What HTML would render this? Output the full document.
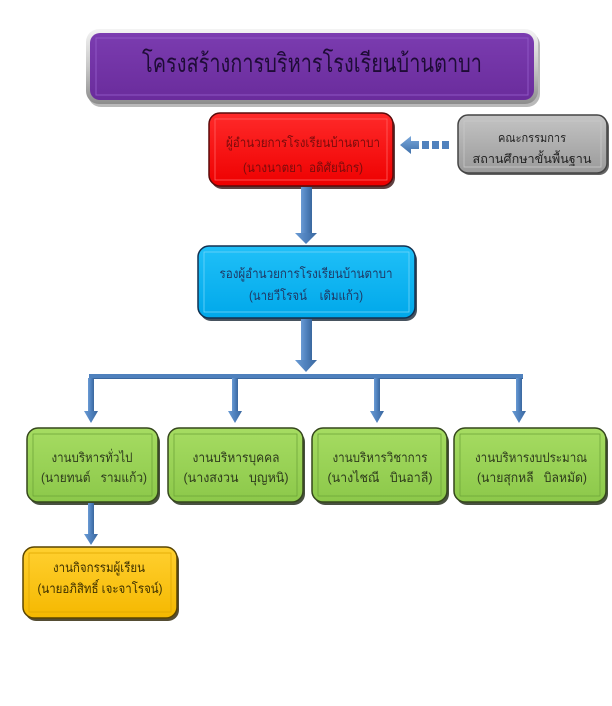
<!DOCTYPE html>
<html><head><meta charset="utf-8">
<style>
html,body{margin:0;padding:0;background:#fff;}
svg{display:block;}
text{font-family:"Liberation Sans","DejaVu Sans","Noto Sans CJK SC",sans-serif;white-space:pre;}
</style></head>
<body>
<svg width="612" height="706" viewBox="0 0 612 706" xmlns="http://www.w3.org/2000/svg" xml:space="preserve">
<defs>
  <linearGradient id="gSil" x1="0" y1="0" x2="0" y2="1">
    <stop offset="0" stop-color="#f4f4f4"/><stop offset="0.5" stop-color="#c8c8c8"/><stop offset="1" stop-color="#8c8c8c"/>
  </linearGradient>
  <linearGradient id="gPur" x1="0" y1="0" x2="0" y2="1">
    <stop offset="0" stop-color="#7b3cb0"/><stop offset="1" stop-color="#6a2c9c"/>
  </linearGradient>
  <linearGradient id="gRed" x1="0" y1="0" x2="0" y2="1">
    <stop offset="0" stop-color="#ff2a2a"/><stop offset="1" stop-color="#ee0000"/>
  </linearGradient>
  <linearGradient id="gGray" x1="0" y1="0" x2="0" y2="1">
    <stop offset="0" stop-color="#c4c4c4"/><stop offset="1" stop-color="#9a9a9a"/>
  </linearGradient>
  <linearGradient id="gBlue" x1="0" y1="0" x2="0" y2="1">
    <stop offset="0" stop-color="#20c0f8"/><stop offset="1" stop-color="#00a8ea"/>
  </linearGradient>
  <linearGradient id="gGreen" x1="0" y1="0" x2="0" y2="1">
    <stop offset="0" stop-color="#a6dc62"/><stop offset="1" stop-color="#8cc84a"/>
  </linearGradient>
  <linearGradient id="gYel" x1="0" y1="0" x2="0" y2="1">
    <stop offset="0" stop-color="#ffd030"/><stop offset="1" stop-color="#f5b800"/>
  </linearGradient>
  <linearGradient id="gArr" x1="0" y1="0" x2="1" y2="0">
    <stop offset="0" stop-color="#6a9bd4"/><stop offset="0.5" stop-color="#4f81bd"/><stop offset="1" stop-color="#3a679e"/>
  </linearGradient>
  <linearGradient id="gArrH" x1="0" y1="0" x2="0" y2="1">
    <stop offset="0" stop-color="#7aa8dc"/><stop offset="1" stop-color="#3f70aa"/>
  </linearGradient>
</defs>

<!-- Title -->
<rect x="88" y="32" width="452" height="75" rx="13" fill="#8a8a8a" opacity="0.6"/>
<rect x="86" y="29" width="452" height="75" rx="13" fill="url(#gSil)"/>
<rect x="90" y="33" width="444" height="67" rx="10" fill="url(#gPur)"/>
<rect x="96" y="38" width="432" height="57" fill="none" stroke="#8e55c4" stroke-width="1"/>
<text x="312" y="72" font-size="26" text-anchor="middle" fill="#1e0c36" textLength="340" lengthAdjust="spacingAndGlyphs">โครงสร้างการบริหารโรงเรียนบ้านตาบา</text>

<!-- Red director -->
<rect x="211" y="116" width="184" height="73" rx="11" fill="#2a0000" opacity="0.75"/>
<rect x="209" y="113" width="184" height="73" rx="11" fill="url(#gRed)" stroke="#5a0a0a" stroke-width="1.5"/>
<rect x="215" y="119" width="172" height="61" fill="none" stroke="#ff6060" stroke-width="0.8"/>
<text x="303" y="147" font-size="13" text-anchor="middle" fill="#7a0c0c" textLength="154" lengthAdjust="spacingAndGlyphs">ผู้อำนวยการโรงเรียนบ้านตาบา</text>
<text x="303" y="172" font-size="13" text-anchor="middle" fill="#7a0c0c" textLength="120" lengthAdjust="spacingAndGlyphs">(นางนาตยา  อดิศัยนิกร)</text>

<!-- Gray committee -->
<rect x="460" y="117" width="149" height="58" rx="10" fill="#222" opacity="0.7"/>
<rect x="458" y="115" width="149" height="58" rx="10" fill="url(#gGray)" stroke="#444" stroke-width="1.5"/>
<rect x="464" y="121" width="137" height="46" fill="none" stroke="#c8c8c8" stroke-width="0.8"/>
<text x="532" y="142" font-size="12" text-anchor="middle" fill="#222" textLength="68" lengthAdjust="spacingAndGlyphs">คณะกรรมการ</text>
<text x="532" y="163" font-size="12" text-anchor="middle" fill="#222" textLength="119" lengthAdjust="spacingAndGlyphs">สถานศึกษาขั้นพื้นฐาน</text>

<!-- Dashed arrow left -->
<polygon points="400,145 411,136 411,141 419,141 419,149 411,149 411,154" fill="url(#gArrH)"/>
<rect x="422" y="141" width="7" height="8" fill="#4f81bd"/>
<rect x="432" y="141" width="7" height="8" fill="#4f81bd"/>
<rect x="442" y="141" width="7" height="8" fill="#4f81bd"/>

<!-- Arrow red -> blue -->
<rect x="301" y="187" width="11" height="47" fill="url(#gArr)"/>
<polygon points="295,233 317,233 306,244" fill="url(#gArr)"/>

<!-- Blue deputy -->
<rect x="200" y="249" width="217" height="72" rx="11" fill="#0a1a2a" opacity="0.75"/>
<rect x="198" y="246" width="217" height="72" rx="11" fill="url(#gBlue)" stroke="#123050" stroke-width="1.5"/>
<rect x="204" y="252" width="205" height="60" fill="none" stroke="#70d4f8" stroke-width="0.8"/>
<text x="306" y="278" font-size="13" text-anchor="middle" fill="#1f3864" textLength="173" lengthAdjust="spacingAndGlyphs">รองผู้อำนวยการโรงเรียนบ้านตาบา</text>
<text x="306" y="300" font-size="13" text-anchor="middle" fill="#1f3864" textLength="114" lengthAdjust="spacingAndGlyphs">(นายวีโรจน์    เดิมแก้ว)</text>

<!-- Arrow blue -> bar -->
<rect x="301" y="319" width="11" height="42" fill="url(#gArr)"/>
<polygon points="295,360 317,360 306,372" fill="url(#gArr)"/>

<!-- Horizontal bar -->
<rect x="89" y="374" width="434" height="5" fill="#4f81bd"/>
<rect x="89" y="378" width="434" height="1" fill="#3a679e"/>

<!-- Drops -->
<g fill="url(#gArr)">
  <rect x="88" y="378" width="6" height="34"/><polygon points="84,411 98,411 91,423"/>
  <rect x="232" y="378" width="6" height="34"/><polygon points="228,411 242,411 235,423"/>
  <rect x="374" y="378" width="6" height="34"/><polygon points="370,411 384,411 377,423"/>
  <rect x="516" y="378" width="6" height="34"/><polygon points="512,411 526,411 519,423"/>
</g>

<!-- Green boxes -->
<g>
  <rect x="29" y="431" width="131" height="74" rx="11" fill="#1a2410" opacity="0.8"/>
  <rect x="27" y="428" width="131" height="74" rx="11" fill="url(#gGreen)" stroke="#35471c" stroke-width="1.5"/>
  <rect x="33" y="434" width="119" height="62" fill="none" stroke="#6fa53a" stroke-width="0.8"/>
  <text x="92" y="462" font-size="13" text-anchor="middle" fill="#2e3b1c" textLength="81" lengthAdjust="spacingAndGlyphs">งานบริหารทั่วไป</text>
  <text x="94" y="482" font-size="13" text-anchor="middle" fill="#2e3b1c" textLength="106" lengthAdjust="spacingAndGlyphs">(นายทนต์   รามแก้ว)</text>

  <rect x="170" y="431" width="135" height="74" rx="11" fill="#1a2410" opacity="0.8"/>
  <rect x="168" y="428" width="135" height="74" rx="11" fill="url(#gGreen)" stroke="#35471c" stroke-width="1.5"/>
  <rect x="174" y="434" width="123" height="62" fill="none" stroke="#6fa53a" stroke-width="0.8"/>
  <text x="236" y="462" font-size="13" text-anchor="middle" fill="#2e3b1c" textLength="87" lengthAdjust="spacingAndGlyphs">งานบริหารบุคคล</text>
  <text x="236" y="482" font-size="13" text-anchor="middle" fill="#2e3b1c" textLength="105" lengthAdjust="spacingAndGlyphs">(นางสงวน   บุญหนิ)</text>

  <rect x="314" y="431" width="135" height="74" rx="11" fill="#1a2410" opacity="0.8"/>
  <rect x="312" y="428" width="135" height="74" rx="11" fill="url(#gGreen)" stroke="#35471c" stroke-width="1.5"/>
  <rect x="318" y="434" width="123" height="62" fill="none" stroke="#6fa53a" stroke-width="0.8"/>
  <text x="380" y="462" font-size="13" text-anchor="middle" fill="#2e3b1c" textLength="95" lengthAdjust="spacingAndGlyphs">งานบริหารวิชาการ</text>
  <text x="380" y="482" font-size="13" text-anchor="middle" fill="#2e3b1c" textLength="105" lengthAdjust="spacingAndGlyphs">(นางไชณี   บินอาลี)</text>

  <rect x="456" y="431" width="152" height="74" rx="11" fill="#1a2410" opacity="0.8"/>
  <rect x="454" y="428" width="152" height="74" rx="11" fill="url(#gGreen)" stroke="#35471c" stroke-width="1.5"/>
  <rect x="460" y="434" width="140" height="62" fill="none" stroke="#6fa53a" stroke-width="0.8"/>
  <text x="531" y="462" font-size="13" text-anchor="middle" fill="#2e3b1c" textLength="112" lengthAdjust="spacingAndGlyphs">งานบริหารงบประมาณ</text>
  <text x="532" y="482" font-size="13" text-anchor="middle" fill="#2e3b1c" textLength="110" lengthAdjust="spacingAndGlyphs">(นายสุกหลี   บิลหมัด)</text>
</g>

<!-- Arrow green1 -> yellow -->
<rect x="88" y="503" width="6" height="32" fill="url(#gArr)"/>
<polygon points="84,534 98,534 91,545" fill="url(#gArr)"/>

<!-- Yellow box -->
<rect x="25" y="550" width="154" height="71" rx="11" fill="#2a2000" opacity="0.8"/>
<rect x="23" y="547" width="154" height="71" rx="11" fill="url(#gYel)" stroke="#5a4500" stroke-width="1.5"/>
<rect x="29" y="553" width="142" height="59" fill="none" stroke="#e0a800" stroke-width="0.8"/>
<text x="99" y="572" font-size="13" text-anchor="middle" fill="#3d3000" textLength="92" lengthAdjust="spacingAndGlyphs">งานกิจกรรมผู้เรียน</text>
<text x="100" y="593" font-size="13" text-anchor="middle" fill="#3d3000" textLength="125" lengthAdjust="spacingAndGlyphs">(นายอภิสิทธิ์ เจะจาโรจน์)</text>
</svg>
</body></html>
